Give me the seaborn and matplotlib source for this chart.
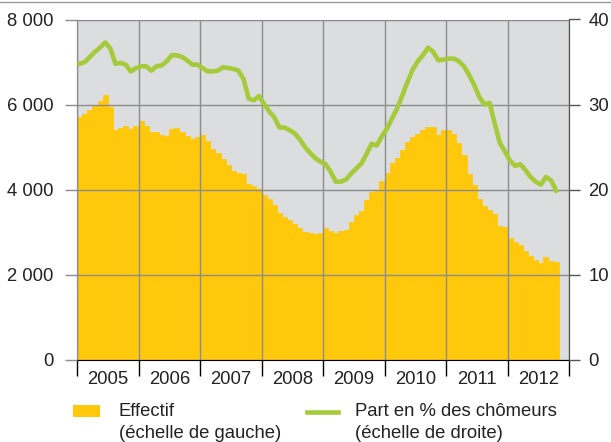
import pandas as pd
import matplotlib
matplotlib.use('Agg')
from matplotlib import pyplot as plt
from matplotlib.patches import Rectangle
from matplotlib.lines import Line2D
import seaborn as sbn

# Effectif mensuel (échelle de gauche), janvier 2005 -> octobre 2012
effectif = [5710, 5780, 5875, 5975, 6085, 6225, 5945, 5404, 5451, 5498, 5428, 5498,
            5616, 5498, 5357, 5357, 5287, 5263, 5428, 5451, 5357, 5263, 5193, 5240,
            5287, 5153, 4957, 4864, 4723, 4582, 4441, 4401, 4370, 4135, 4088, 4018,
            3877, 3783, 3642, 3454, 3360, 3290, 3196, 3101, 3008, 2984, 2961, 2984,
            3094, 3040, 2992, 3040, 3062, 3242, 3407, 3501, 3759, 3947, 3994, 4205,
            4394, 4629, 4746, 4934, 5122, 5240, 5310, 5404, 5475, 5475, 5287, 5404,
            5404, 5310, 5099, 4805, 4370, 4112, 3783, 3618, 3524, 3420, 3148, 3125,
            2867, 2773, 2702, 2561, 2444, 2350, 2280, 2420, 2326, 2303]

# Part en % des chômeurs (échelle de droite)
part = [34.8, 35.0, 35.6, 36.2, 36.7, 37.3, 36.6, 34.8, 34.9, 34.7, 33.9, 34.3,
        34.5, 34.5, 34.0, 34.5, 34.6, 35.1, 35.8, 35.8, 35.6, 35.2, 34.7, 34.7,
        34.3, 33.9, 33.9, 34.0, 34.4, 34.3, 34.2, 34.0, 33.0, 30.7, 30.5, 31.0,
        30.1, 29.2, 28.5, 27.3, 27.3, 27.0, 26.6, 25.9, 25.0, 24.3, 23.7, 23.3,
        23.0, 22.1, 20.95, 20.95, 21.2, 21.9, 22.5, 23.1, 24.2, 25.4, 25.2, 26.3,
        27.2, 28.4, 29.6, 31.1, 32.7, 34.1, 35.1, 35.8, 36.7, 36.2, 35.2, 35.3,
        35.4, 35.4, 35.1, 34.5, 33.5, 32.3, 30.9, 30.0, 30.2, 27.8, 25.5, 24.5,
        23.4, 22.8, 23.0, 22.3, 21.5, 20.95, 20.6, 21.5, 21.1, 19.9]

annees = [2005, 2006, 2007, 2008, 2009, 2010, 2011, 2012]
left_ticks = [0, 2000, 4000, 6000, 8000]
left_labels = ['0', '2 000', '4 000', '6 000', '8 000']
right_ticks = [0, 10, 20, 30, 40]

jaune = '#FFC80B'
vert = '#A5CB3A'
fond = '#DCDDDF'
grille = '#8C8C8C'
texte = '#222222'

plt.rcParams['font.family'] = ['Liberation Sans', 'DejaVu Sans']
plt.rcParams['font.size'] = 13.3

df = pd.DataFrame({
    'pos': [annees[0] + (i + 0.5) / 12 for i in range(len(effectif))],
    'effectif': effectif,
    'part': part,
})

fig = plt.figure(figsize=(6.11, 4.42), dpi=100)
ax = fig.add_axes([77 / 611, 82 / 442, 492 / 611, 340.5 / 442])
ax.set_facecolor(fond)

sbn.barplot(data=df, x='pos', y='effectif', native_scale=True, width=1,
            color=jaune, saturation=1, linewidth=0.6, edgecolor=jaune, ax=ax)

ax.set_xlim(2005, 2013)
ax.set_ylim(0, 8000)
ax.set_xlabel('')
ax.set_ylabel('')

# grille au-dessus des barres
ax.set_axisbelow(False)
ax.set_xticks(range(2005, 2014))
ax.set_xticklabels([])
ax.set_xticks([a + 0.5 for a in annees], minor=True)
ax.set_xticklabels([str(a) for a in annees], minor=True, color=texte)
ax.tick_params(axis='x', which='major', length=11.5, width=1, color='black', direction='out')
ax.tick_params(axis='x', which='minor', length=0, pad=8)
ax.set_yticks(left_ticks)
ax.set_yticklabels(left_labels, color=texte)
ax.tick_params(axis='y', length=8.5, width=1, color=grille, pad=8.5)
ax.grid(True, which='major', color=grille, linewidth=1)

ax.spines['top'].set_color(grille)
ax.spines['left'].set_color('black')
ax.spines['bottom'].set_color('black')
ax.spines['right'].set_color('#555555')

ax2 = ax.twinx()
sbn.lineplot(data=df, x='pos', y='part', color=vert, linewidth=3.3, ax=ax2)
ax2.set_ylim(0, 40)
ax2.set_xlim(2005, 2013)
ax2.set_ylabel('')
ax2.set_yticks(right_ticks)
ax2.set_yticklabels([str(v) for v in right_ticks], color=texte)
ax2.tick_params(axis='y', length=8, width=1, color='#555555', pad=6)
for s in ['top', 'left', 'bottom']:
    ax2.spines[s].set_visible(False)
ax2.spines['right'].set_color('#555555')

# filet en haut
fig.add_artist(Line2D([0, 1], [1 - 1.5 / 442] * 2, color='#9A9A9A', linewidth=1))

# légende
fig.add_artist(Rectangle((73 / 611, 1 - 417 / 442), 27 / 611, 12 / 442,
                         facecolor=jaune, edgecolor='none'))
fig.text(119 / 611, 1 - 411.5 / 442, 'Effectif', color=texte, va='center')
fig.text(119 / 611, 1 - 433 / 442, '(échelle de gauche)', color=texte, va='center')
fig.add_artist(Line2D([307 / 611, 338 / 611], [1 - 411.5 / 442] * 2, color=vert, linewidth=3.3))
fig.text(355 / 611, 1 - 411.5 / 442, 'Part en % des chômeurs', color=texte, va='center')
fig.text(355 / 611, 1 - 433 / 442, '(échelle de droite)', color=texte, va='center')

fig.savefig('out.png', dpi=100)
